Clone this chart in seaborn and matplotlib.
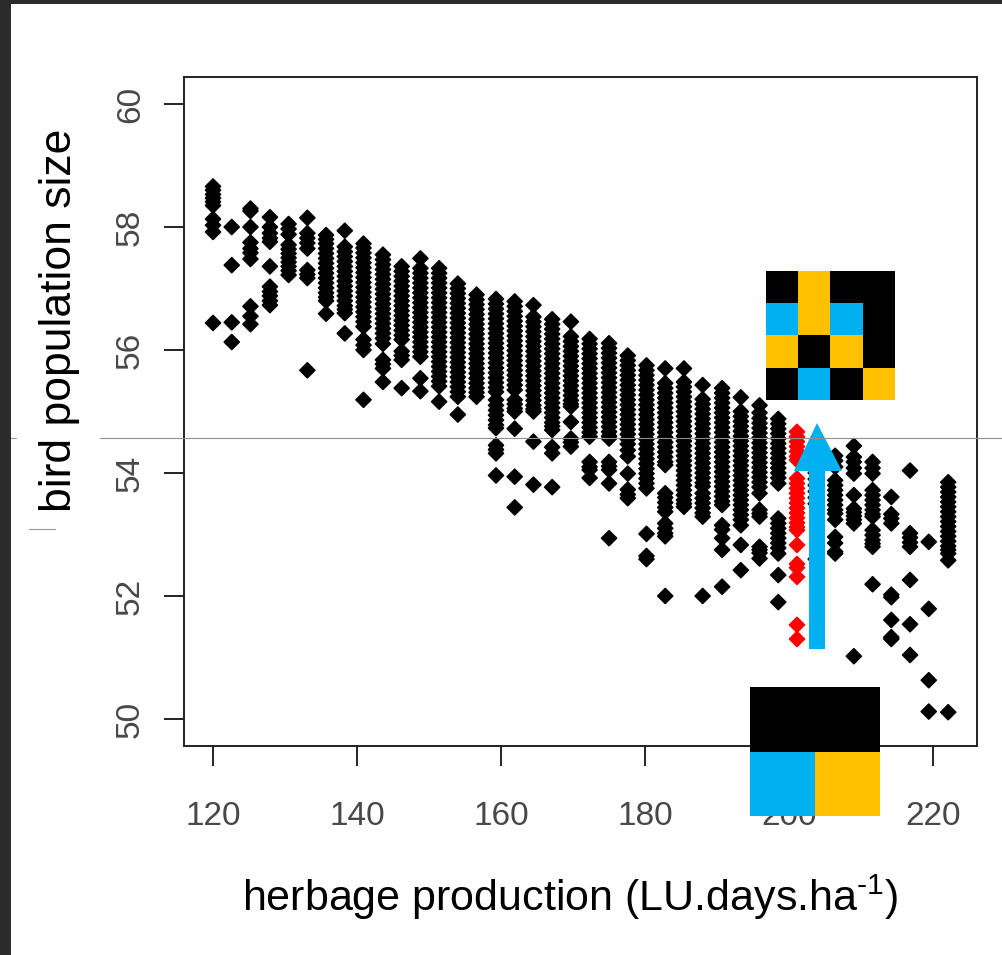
import matplotlib
matplotlib.use("Agg")
import matplotlib.pyplot as plt
from matplotlib.colors import ListedColormap
from matplotlib.patches import Polygon, Rectangle
import numpy as np
import pandas as pd
import seaborn as sns

x_columns = [120.0,122.6,125.2,127.9,130.5,133.1,135.7,138.3,140.9,143.6,146.2,148.8,151.4,154.0,156.6,159.3,161.9,164.5,167.1,169.7,
             172.3,175.0,177.6,180.2,182.8,185.4,188.0,190.7,193.3,195.9,198.5,201.1,203.7,206.4,209.0,211.6,214.2,216.8,219.4,222.1]

y00 = [58.66,58.6,58.53,58.47,58.41,58.35,58.13,58.03,57.92,56.44]
y01 = [58.0,57.38,56.45,56.13]
y02 = [58.3,58.26,58.0,57.75,57.65,57.58,57.48,56.71,56.55,56.42]
y03 = [58.16,58.0,57.9,57.82,57.76,57.36,57.03,56.95,56.88,56.8,56.73]
y04 = [58.05,57.97,57.88,57.71,57.64,57.57,57.5,57.43,57.36,57.29,57.22]
y05 = [58.15,57.9,57.82,57.74,57.65,57.3,57.23,57.17,55.67]
y06 = [57.87,57.8,57.73,57.65,57.57,57.49,57.41,57.33,57.25,57.17,57.09,57.01,56.93,56.86,56.8,56.59]
y07 = [57.94,57.68,57.6,57.52,57.44,57.36,57.28,57.2,57.12,57.04,56.96,56.88,56.8,56.72,56.66,56.6,56.27]
y08 = [57.73,57.66,57.58,57.5,57.42,57.34,57.26,57.18,57.1,57.02,56.94,56.86,56.78,56.7,56.62,56.54,56.46,56.38,56.17,56.08,56.0,55.19]
y09 = [57.55,57.47,57.39,57.31,57.23,57.15,57.07,56.99,56.91,56.83,56.75,56.67,56.59,56.51,56.43,56.35,56.27,56.19,56.1,55.84,55.77,55.7,55.48]
y10 = [57.36,57.28,57.2,57.12,57.04,56.96,56.88,56.8,56.72,56.64,56.56,56.48,56.4,56.32,56.24,56.17,55.98,55.91,55.84,55.38]
y11 = [57.49,57.33,57.25,57.17,57.09,57.01,56.93,56.85,56.77,56.69,56.61,56.53,56.45,56.37,56.29,56.21,56.13,56.05,55.97,55.89,55.54,55.33]
y12 = [57.33,57.25,57.17,57.09,57.01,56.93,56.85,56.77,56.69,56.61,56.53,56.45,56.37,56.29,56.21,56.13,56.05,55.97,55.89,55.81,55.73,55.65,55.57,55.49,55.41,55.16]
y13 = [57.08,57.0,56.92,56.84,56.76,56.68,56.6,56.52,56.44,56.36,56.28,56.2,56.12,56.04,55.96,55.88,55.8,55.72,55.64,55.56,55.48,55.4,55.32,55.24,54.95]
y14 = [56.9,56.82,56.74,56.66,56.58,56.5,56.42,56.34,56.26,56.18,56.1,56.02,55.94,55.86,55.78,55.7,55.62,55.54,55.46,55.38,55.31,55.24]
y15 = [56.83,56.75,56.67,56.59,56.51,56.43,56.35,56.27,56.19,56.11,56.03,55.95,55.87,55.79,55.71,55.63,55.55,55.47,55.39,55.32,55.19,55.1,55.02,54.94,54.86,54.78,54.73,54.45,54.38,54.32,53.96]
y16 = [56.79,56.71,56.63,56.55,56.47,56.39,56.31,56.23,56.15,56.07,55.99,55.91,55.83,55.75,55.67,55.59,55.51,55.43,55.35,55.19,55.12,55.05,55.0,54.72,53.94,53.44]
y17 = [56.73,56.54,56.46,56.38,56.3,56.22,56.14,56.06,55.98,55.9,55.82,55.74,55.66,55.58,55.5,55.42,55.34,55.26,55.18,55.1,55.04,55.0,54.51,53.81]
y18 = [56.5,56.42,56.34,56.26,56.18,56.1,56.02,55.94,55.86,55.78,55.7,55.62,55.54,55.46,55.38,55.3,55.22,55.14,55.06,54.98,54.9,54.82,54.76,54.7,54.42,54.32,53.77]
y19 = [56.46,56.22,56.14,56.06,55.98,55.9,55.82,55.74,55.66,55.58,55.5,55.42,55.34,55.26,55.18,55.12,55.08,54.83,54.56,54.5,54.43]
y20 = [56.18,56.1,56.02,55.94,55.86,55.78,55.7,55.62,55.54,55.46,55.38,55.3,55.22,55.14,55.06,54.98,54.9,54.82,54.74,54.66,54.59,54.18,54.1,54.05,53.92]
y21 = [56.11,56.03,55.95,55.87,55.79,55.71,55.63,55.55,55.47,55.39,55.31,55.23,55.15,55.07,54.99,54.91,54.83,54.75,54.67,54.6,54.56,54.18,54.11,54.05,53.83,52.94]
y22 = [55.91,55.83,55.75,55.67,55.59,55.51,55.43,55.35,55.27,55.19,55.11,55.03,54.95,54.87,54.79,54.71,54.63,54.55,54.47,54.37,54.27,53.99,53.73,53.65,53.59]
y23 = [55.75,55.67,55.59,55.51,55.43,55.35,55.27,55.19,55.11,55.03,54.95,54.87,54.79,54.71,54.63,54.55,54.47,54.39,54.31,54.23,54.15,54.07,53.99,53.91,53.83,53.75,53.01,52.6,52.65]
y24 = [55.7,55.46,55.38,55.3,55.22,55.14,55.06,54.98,54.9,54.82,54.74,54.66,54.58,54.5,54.42,54.34,54.26,54.18,54.13,53.67,53.6,53.52,53.44,53.37,53.18,53.1,53.02,52.97,52.0]
y25 = [55.7,55.48,55.4,55.32,55.24,55.16,55.08,55.0,54.92,54.84,54.76,54.68,54.6,54.52,54.44,54.36,54.28,54.2,54.12,54.04,53.96,53.88,53.8,53.72,53.64,53.56,53.5,53.45]
y26 = [55.43,55.2,55.12,55.04,54.96,54.88,54.8,54.72,54.64,54.56,54.48,54.4,54.32,54.24,54.16,54.08,54.0,53.92,53.84,53.78,53.67,53.59,53.51,53.43,53.35,53.29,52.0]
y27 = [55.38,55.3,55.22,55.14,55.06,54.98,54.9,54.82,54.74,54.66,54.58,54.5,54.42,54.34,54.26,54.18,54.1,54.02,53.94,53.86,53.78,53.7,53.62,53.54,53.48,53.15,53.08,52.94,52.75,52.15]
y28 = [55.23,55.0,54.92,54.84,54.76,54.68,54.6,54.52,54.44,54.36,54.28,54.2,54.12,54.04,53.96,53.88,53.8,53.72,53.64,53.56,53.48,53.4,53.32,53.24,53.15,52.83,52.42]
y29 = [55.1,54.98,54.89,54.81,54.73,54.65,54.57,54.49,54.41,54.33,54.25,54.17,54.09,54.01,53.93,53.85,53.77,53.67,53.4,53.34,53.29,52.8,52.75,52.7,52.61]
y30 = [54.88,54.8,54.72,54.64,54.56,54.48,54.4,54.32,54.24,54.16,54.08,54.0,53.92,53.83,53.26,53.18,53.1,53.02,52.94,52.86,52.78,52.69,52.34,51.9]
y31 = [54.67,54.59,54.51,54.43,54.35,54.27,54.21,53.91,53.83,53.75,53.67,53.59,53.51,53.43,53.35,53.27,53.19,53.12,53.07,52.83,52.52,52.46,52.31,51.53,51.3]
y32 = [54.0,53.9,53.8,53.7,53.6,53.5,52.6]
y33 = [54.28,54.2,54.1,53.88,53.8,53.72,53.64,53.56,53.48,53.4,53.34,53.24,52.96,52.86,52.72,52.69]
y34 = [54.44,54.26,54.18,54.08,53.99,53.64,53.42,53.36,53.3,53.24,53.18,51.02]
y35 = [54.18,54.08,53.99,53.72,53.64,53.56,53.48,53.4,53.33,53.29,53.07,52.99,52.91,52.85,52.8,52.19]
y36 = [53.61,53.33,53.26,53.18,52.02,51.98,51.61,51.3,51.33]
y37 = [54.04,53.02,52.95,52.87,52.8,52.26,51.54,51.04]
y38 = [52.88,51.79,50.63,50.12]
y39 = [53.85,53.77,53.69,53.61,53.53,53.45,53.37,53.29,53.21,53.13,53.05,52.97,52.89,52.81,52.75,52.69,52.58,50.11]

y_columns = [y00,y01,y02,y03,y04,y05,y06,y07,y08,y09,y10,y11,y12,y13,y14,y15,y16,y17,y18,y19,
             y20,y21,y22,y23,y24,y25,y26,y27,y28,y29,y30,y31,y32,y33,y34,y35,y36,y37,y38,y39]
red_column_index = 31

x_ticks = [120,140,160,180,200,220]
y_ticks = [50,52,54,56,58,60]
x_label = "herbage production (LU.days.ha$^{\\mathregular{\\text{-}1}}$)"
y_label = "bird population size"
BLUE, YELLOW = "#00B0F0", "#FFC000"
grid_large = [[0,2,0,0],[1,2,1,0],[2,0,2,0],[0,1,0,2]]
grid_small = [[0,0],[1,2]]

sns.set_theme(style="white")
plt.rcParams["font.family"] = ["Liberation Sans", "DejaVu Sans"]
plt.rcParams["mathtext.fontset"] = "custom"
plt.rcParams["mathtext.rm"] = "Liberation Sans"

W, H = 1003, 955
fig = plt.figure(figsize=(W/100, H/100), dpi=100, facecolor="white")

def px_axes(l, t, r, b):
    return fig.add_axes([l/W, 1-b/H, (r-l)/W, (b-t)/H])

ax = px_axes(184, 77, 977, 746)
rows = [(x, y, i == red_column_index) for i, (x, ys) in enumerate(zip(x_columns, y_columns)) for y in ys]
df = pd.DataFrame(rows, columns=["x", "y", "red"])
sns.scatterplot(data=df, x="x", y="y", hue="red", palette={False: "black", True: "#FF0000"},
                marker="D", s=58, linewidth=1.2, edgecolor="face", legend=False, ax=ax, zorder=3)
ax.set_xlim(115.97, 226.1)
ax.set_ylim(49.56, 60.44)
ax.set_xticks(x_ticks)
ax.set_yticks(y_ticks)
ax.set_xlabel("")
ax.set_ylabel("")
ax.tick_params(axis="both", length=14.5, width=1.4, color="#222222", labelcolor="#484848",
               labelsize=24, bottom=True, left=True, pad=25)
ax.tick_params(axis="y", labelrotation=90, pad=13)
for lab in ax.get_yticklabels():
    lab.set_va("center")
for s in ax.spines.values():
    s.set_linewidth(1.4)
    s.set_color("#222222")

# page overlay in pixel coordinates
ov = fig.add_axes([0, 0, 1, 1], facecolor="none")
ov.set_xlim(0, W)
ov.set_ylim(H, 0)
ov.axis("off")
ov.add_patch(Rectangle((0, 0), 11, H, color="#2b2b2b", lw=0))
ov.add_patch(Rectangle((0, 0), W, 4.5, color="#2b2b2b", lw=0))
ov.plot([11, 16], [438, 438], color="#999999", lw=0.8)
ov.plot([100, W], [438, 438], color="#8f8f8f", lw=0.8)
ov.plot([29, 55], [529, 529], color="#999999", lw=0.8)
ov.add_patch(Polygon([(809, 649), (825, 649), (825, 471), (842, 471), (817, 423), (794, 471), (809, 471)],
                     closed=True, facecolor=BLUE, edgecolor="none"))
ov.text(570, 897, x_label, fontsize=31, color="black", ha="center", va="center")
ov.text(60, 320, y_label, fontsize=32, color="black", ha="center", va="center", rotation=90)

cmap = ListedColormap(["black", BLUE, YELLOW])
for grid, box in ((grid_large, (766, 271, 895, 400)), (grid_small, (750, 687, 880, 816))):
    a = px_axes(*box)
    sns.heatmap(np.array(grid), cmap=cmap, vmin=0, vmax=2, cbar=False, xticklabels=False,
                yticklabels=False, ax=a, linewidths=0)
    a.tick_params(length=0)

fig.savefig("out.png", dpi=100, facecolor="white")
